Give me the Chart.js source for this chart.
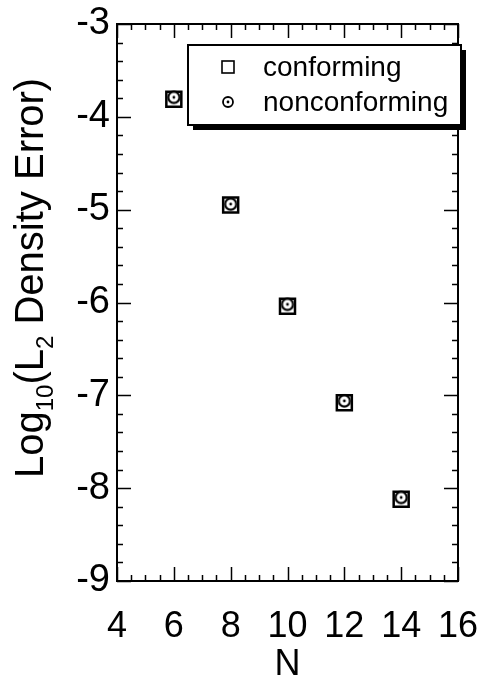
<!DOCTYPE html>
<html>
<head>
<meta charset="utf-8">
<script src="https://cdn.jsdelivr.net/npm/chart.js@4"></script>
<style>
  html, body { margin: 0; padding: 0; background: #fff; }
  #wrap { width: 484px; height: 679px; }
</style>
</head>
<body>
<div id="wrap"><canvas id="chart" width="484" height="679"></canvas></div>
<script>
// data
const nValues = [6, 8, 10, 12, 14];
const conforming = [-3.81, -4.95, -6.04, -7.08, -8.12];
const nonconforming = [-3.79, -4.94, -6.02, -7.06, -8.10];
const seriesLabels = ['conforming', 'nonconforming'];

// axis ranges / ticks
const xRange = [4, 16], xStep = 2, xMinor = 0.5;
const yRange = [-9, -3], yStep = 1, yMinor = 0.2;

const FONT = "'Liberation Sans', Arial, Helvetica, sans-serif";

// circle with a centre dot, used as the nonconforming marker
function dotCircle(size, r, lw) {
  const c = document.createElement('canvas');
  c.width = size; c.height = size;
  const g = c.getContext('2d');
  g.beginPath();
  g.arc(size / 2, size / 2, r, 0, Math.PI * 2);
  g.fillStyle = '#fff';
  g.fill();
  g.lineWidth = lw;
  g.strokeStyle = '#000';
  g.stroke();
  g.beginPath();
  g.arc(size / 2, size / 2, 1.4, 0, Math.PI * 2);
  g.fillStyle = '#000';
  g.fill();
  return c;
}
const circleMarker = dotCircle(16, 5.6, 2.2);
const legendCircle = dotCircle(14, 5, 1.8);

function toPoints(ys) {
  return nValues.map((n, i) => ({ x: n, y: ys[i] }));
}

// frame, inward ticks, titles and legend
const framePlugin = {
  id: 'frame',
  beforeDatasetsDraw(chart) {
    const { ctx, chartArea: a, scales } = chart;
    const xs = scales.x, ys = scales.y;
    ctx.save();
    ctx.strokeStyle = '#000';
    ctx.lineWidth = 1.5;
    ctx.beginPath();
    for (let v = xRange[0]; v <= xRange[1] + 1e-9; v += xMinor) {
      const px = Math.round(xs.getPixelForValue(v)) + 0.5;
      const major = Math.abs(v / xStep - Math.round(v / xStep)) < 1e-6;
      const len = major ? 14 : 6;
      ctx.moveTo(px, a.bottom); ctx.lineTo(px, a.bottom - len);
      ctx.moveTo(px, a.top); ctx.lineTo(px, a.top + len);
    }
    for (let v = yRange[0]; v <= yRange[1] + 1e-9; v += yMinor) {
      const py = Math.round(ys.getPixelForValue(v)) + 0.5;
      const major = Math.abs(v / yStep - Math.round(v / yStep)) < 1e-6;
      const len = major ? 14 : 6;
      ctx.moveTo(a.left, py); ctx.lineTo(a.left + len, py);
      ctx.moveTo(a.right, py); ctx.lineTo(a.right - len, py);
    }
    ctx.stroke();
    ctx.lineWidth = 2;
    ctx.strokeRect(a.left, a.top, a.right - a.left, a.bottom - a.top);
    ctx.restore();
  },
  afterDraw(chart) {
    const { ctx, chartArea: a } = chart;
    ctx.save();
    ctx.fillStyle = '#000';

    // x title
    ctx.font = '36px ' + FONT;
    ctx.textAlign = 'center';
    ctx.textBaseline = 'alphabetic';
    ctx.fillText('N', (a.left + a.right) / 2, 675);

    // y title with subscripts, rotated
    ctx.translate(43, 478);
    ctx.rotate(-Math.PI / 2);
    ctx.textAlign = 'left';
    const parts = [
      ['Log', 40, 0], ['10', 24, 10], ['(L', 40, 0], ['2', 24, 10], [' Density Error)', 40, 0]
    ];
    let x = 0;
    parts.forEach(([t, size, dy]) => {
      ctx.font = size + 'px ' + FONT;
      ctx.fillText(t, x, dy);
      x += ctx.measureText(t).width;
    });
    ctx.setTransform(1, 0, 0, 1, 0, 0);

    // legend box with drop shadow
    const bx = 188, by = 45, bw = 273, bh = 80;
    ctx.fillStyle = '#000';
    ctx.fillRect(bx + 5, by + 5, bw, bh);
    ctx.fillStyle = '#fff';
    ctx.fillRect(bx, by, bw, bh);
    ctx.lineWidth = 2;
    ctx.strokeStyle = '#000';
    ctx.strokeRect(bx, by, bw, bh);

    const labels = chart.data.datasets.map(d => d.label);
    ctx.fillStyle = '#000';
    ctx.font = '28px ' + FONT;
    ctx.textBaseline = 'alphabetic';
    ctx.fillText(labels[0], 263, 76);
    ctx.fillText(labels[1], 263, 111);

    // legend markers
    ctx.lineWidth = 1.6;
    ctx.strokeRect(222, 61, 12, 12);
    ctx.drawImage(legendCircle, 228 - 7, 102 - 7);
    ctx.restore();
  }
};

new Chart(document.getElementById('chart').getContext('2d'), {
  type: 'scatter',
  data: {
    datasets: [
      {
        label: seriesLabels[0],
        data: toPoints(conforming),
        order: 1,
        pointStyle: 'rect',
        pointRadius: 10.6,
        pointHoverRadius: 10.6,
        pointBorderWidth: 2.5,
        borderColor: '#000',
        backgroundColor: '#fff'
      },
      {
        label: seriesLabels[1],
        data: toPoints(nonconforming),
        order: 0,
        pointStyle: circleMarker,
        pointRadius: 8,
        borderColor: '#000',
        backgroundColor: '#fff'
      }
    ]
  },
  options: {
    responsive: false,
    animation: false,
    events: [],
    layout: { padding: { left: 0, top: 24, right: 26, bottom: 0 } },
    plugins: { legend: { display: false }, tooltip: { enabled: false } },
    scales: {
      x: {
        type: 'linear',
        min: xRange[0], max: xRange[1],
        grid: { display: false, drawTicks: false },
        border: { display: false },
        ticks: { stepSize: xStep, padding: 24, color: '#000', font: { family: FONT, size: 36 }, maxRotation: 0 },
        afterFit(scale) {
          scale.height = 98;
          scale.paddingLeft = 0; scale.paddingRight = 0;
        }
      },
      y: {
        type: 'linear',
        min: yRange[0], max: yRange[1],
        grid: { display: false, drawTicks: false },
        border: { display: false },
        ticks: { stepSize: yStep, padding: 7, color: '#000', font: { family: FONT, size: 38 } },
        afterFit(scale) {
          scale.width = 117;
          scale.paddingTop = 0; scale.paddingBottom = 0;
        }
      }
    }
  },
  plugins: [framePlugin]
});
</script>
</body>
</html>
